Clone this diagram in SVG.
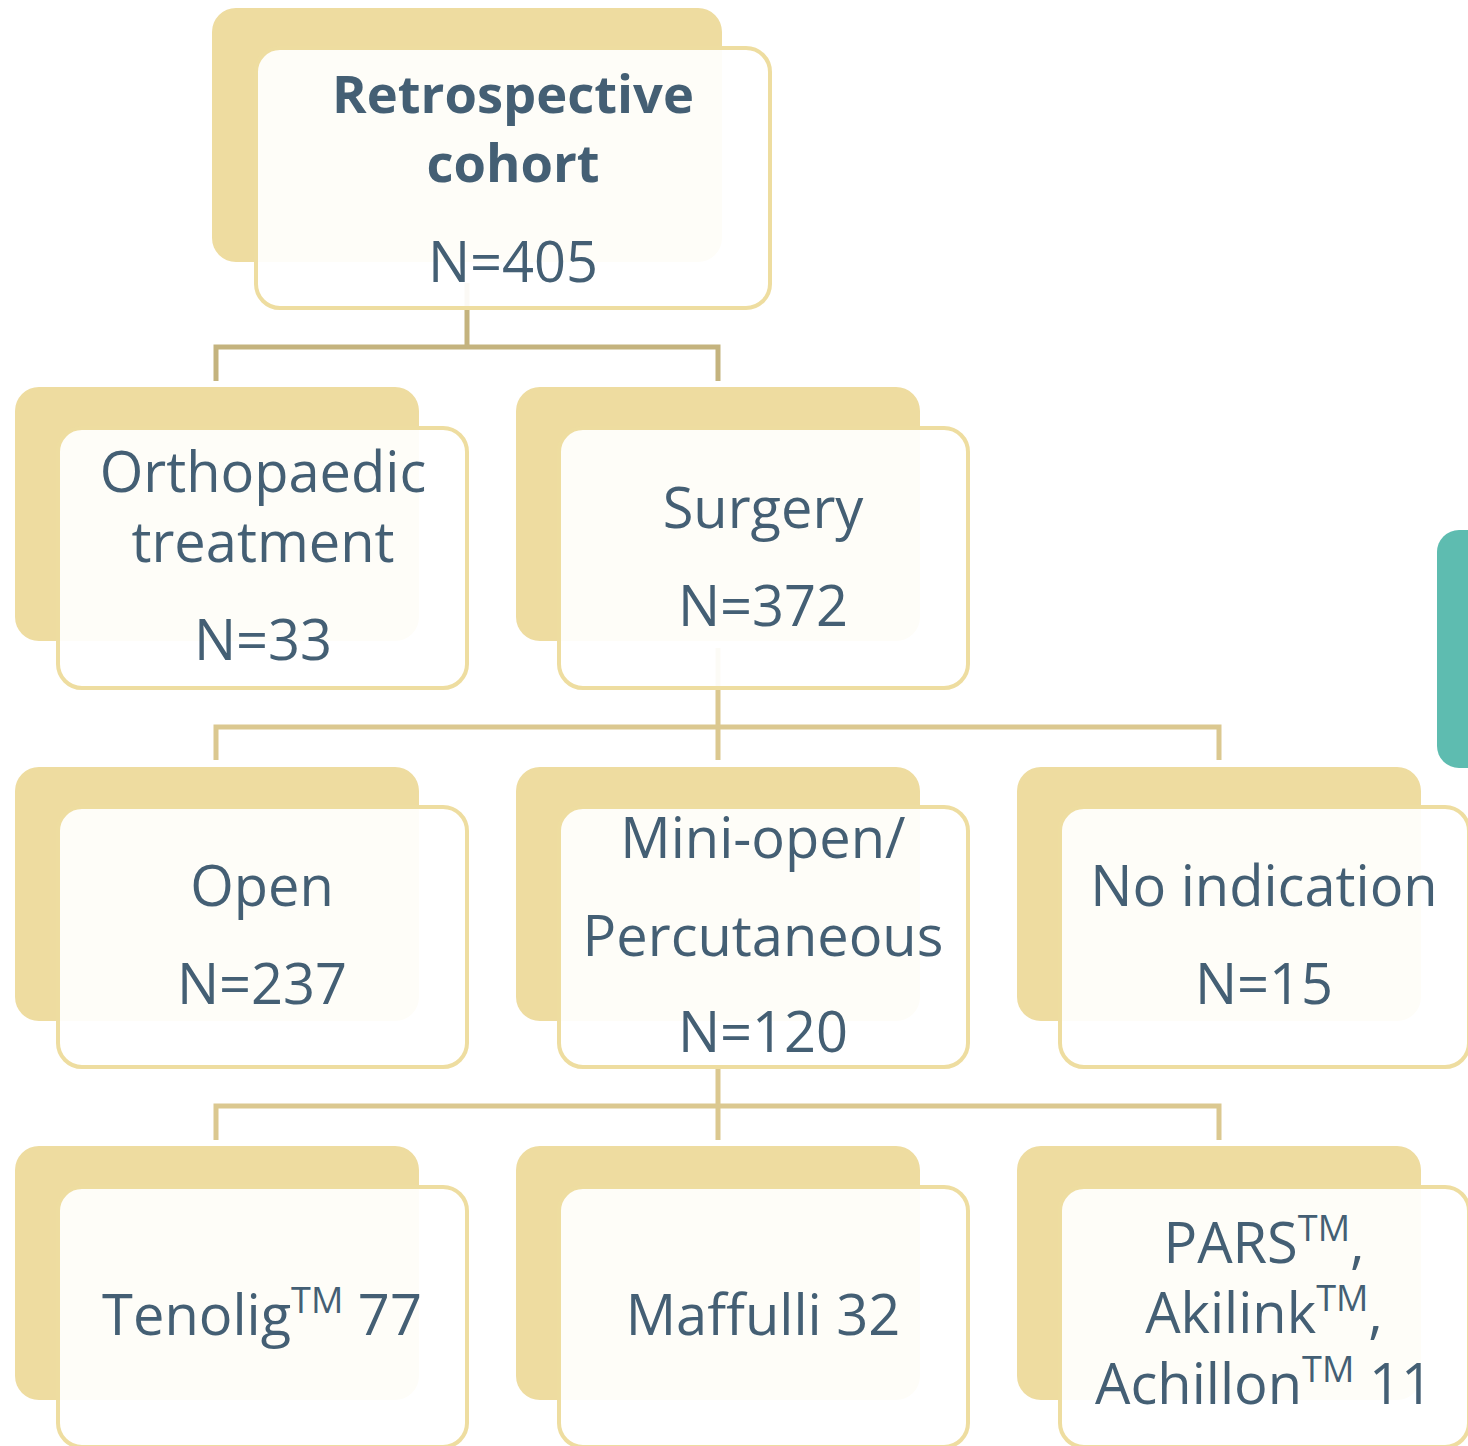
<svg xmlns="http://www.w3.org/2000/svg" width="1468" height="1446" viewBox="0 0 1468 1446">
<style>
.back{fill:#EEDCA0}
.front{fill:#FFFFFF;fill-opacity:0.92;stroke:#EEDDA0;stroke-width:4}
.t{font-family:"Open Sans","Noto Sans","Liberation Sans",sans-serif;font-size:56px;fill:#445F74;text-anchor:middle}
.b{font-weight:bold;font-size:52.5px}
.sup{font-size:36px}
.c1{fill:none;stroke:#C4B37E;stroke-width:5}
.c2{fill:none;stroke:#DBC890;stroke-width:5}
</style>
<rect x="1437" y="530" width="60" height="238" rx="22" fill="#5EBCB0"/>
<g id="connectors">
<path class="c1" d="M467 283 V347 M216 381 V347 H718 V381"/>
<path class="c2" d="M718 648 V760 M216 760 V727 H1219 V760"/>
<path class="c2" d="M718 1068 V1140 M216 1140 V1106 H1219 V1140"/>
</g>
<g id="n-cohort">
<rect class="back" x="212" y="8" width="510" height="254" rx="24"/>
<rect class="front" x="256" y="48" width="514" height="260" rx="24"/>
<text class="t b" x="513" y="113">Retrospective</text>
<text class="t b" x="513" y="182">cohort</text>
<text class="t" x="513" y="282">N=405</text>
</g>
<g id="n-ortho">
<rect class="back" x="15" y="387" width="404" height="254" rx="24"/>
<rect class="front" x="58" y="428" width="409" height="260" rx="24"/>
<text class="t" x="263" y="492">Orthopaedic</text>
<text class="t" x="263" y="562">treatment</text>
<text class="t" x="263" y="660">N=33</text>
</g>
<g id="n-surgery">
<rect class="back" x="516" y="387" width="404" height="254" rx="24"/>
<rect class="front" x="559" y="428" width="409" height="260" rx="24"/>
<text class="t" x="763" y="528">Surgery</text>
<text class="t" x="763" y="626">N=372</text>
</g>
<g id="n-open">
<rect class="back" x="15" y="767" width="404" height="254" rx="24"/>
<rect class="front" x="58" y="807" width="409" height="260" rx="24"/>
<text class="t" x="262" y="906">Open</text>
<text class="t" x="262" y="1004">N=237</text>
</g>
<g id="n-mini">
<rect class="back" x="516" y="767" width="404" height="254" rx="24"/>
<rect class="front" x="559" y="807" width="409" height="260" rx="24"/>
<text class="t" x="763" y="858">Mini-open/</text>
<text class="t" x="763" y="956">Percutaneous</text>
<text class="t" x="763" y="1052">N=120</text>
</g>
<g id="n-noind">
<rect class="back" x="1017" y="767" width="404" height="254" rx="24"/>
<rect class="front" x="1060" y="807" width="409" height="260" rx="24"/>
<text class="t" x="1264" y="906">No indication</text>
<text class="t" x="1264" y="1004">N=15</text>
</g>
<g id="n-tenolig">
<rect class="back" x="15" y="1146" width="404" height="254" rx="24"/>
<rect class="front" x="58" y="1187" width="409" height="260" rx="24"/>
<text class="t" x="262" y="1335">Tenolig<tspan class="sup" dy="-22">TM</tspan><tspan dy="22"> 77</tspan></text>
</g>
<g id="n-maffulli">
<rect class="back" x="516" y="1146" width="404" height="254" rx="24"/>
<rect class="front" x="559" y="1187" width="409" height="260" rx="24"/>
<text class="t" x="763" y="1335">Maffulli 32</text>
</g>
<g id="n-pars">
<rect class="back" x="1017" y="1146" width="404" height="254" rx="24"/>
<rect class="front" x="1060" y="1187" width="409" height="260" rx="24"/>
<text class="t" x="1264" y="1263">PARS<tspan class="sup" dy="-22">TM</tspan><tspan dy="22">,</tspan></text>
<text class="t" x="1264" y="1333">Akilink<tspan class="sup" dy="-22">TM</tspan><tspan dy="22">,</tspan></text>
<text class="t" x="1264" y="1404">Achillon<tspan class="sup" dy="-22">TM</tspan><tspan dy="22"> 11</tspan></text>
</g>
</svg>
